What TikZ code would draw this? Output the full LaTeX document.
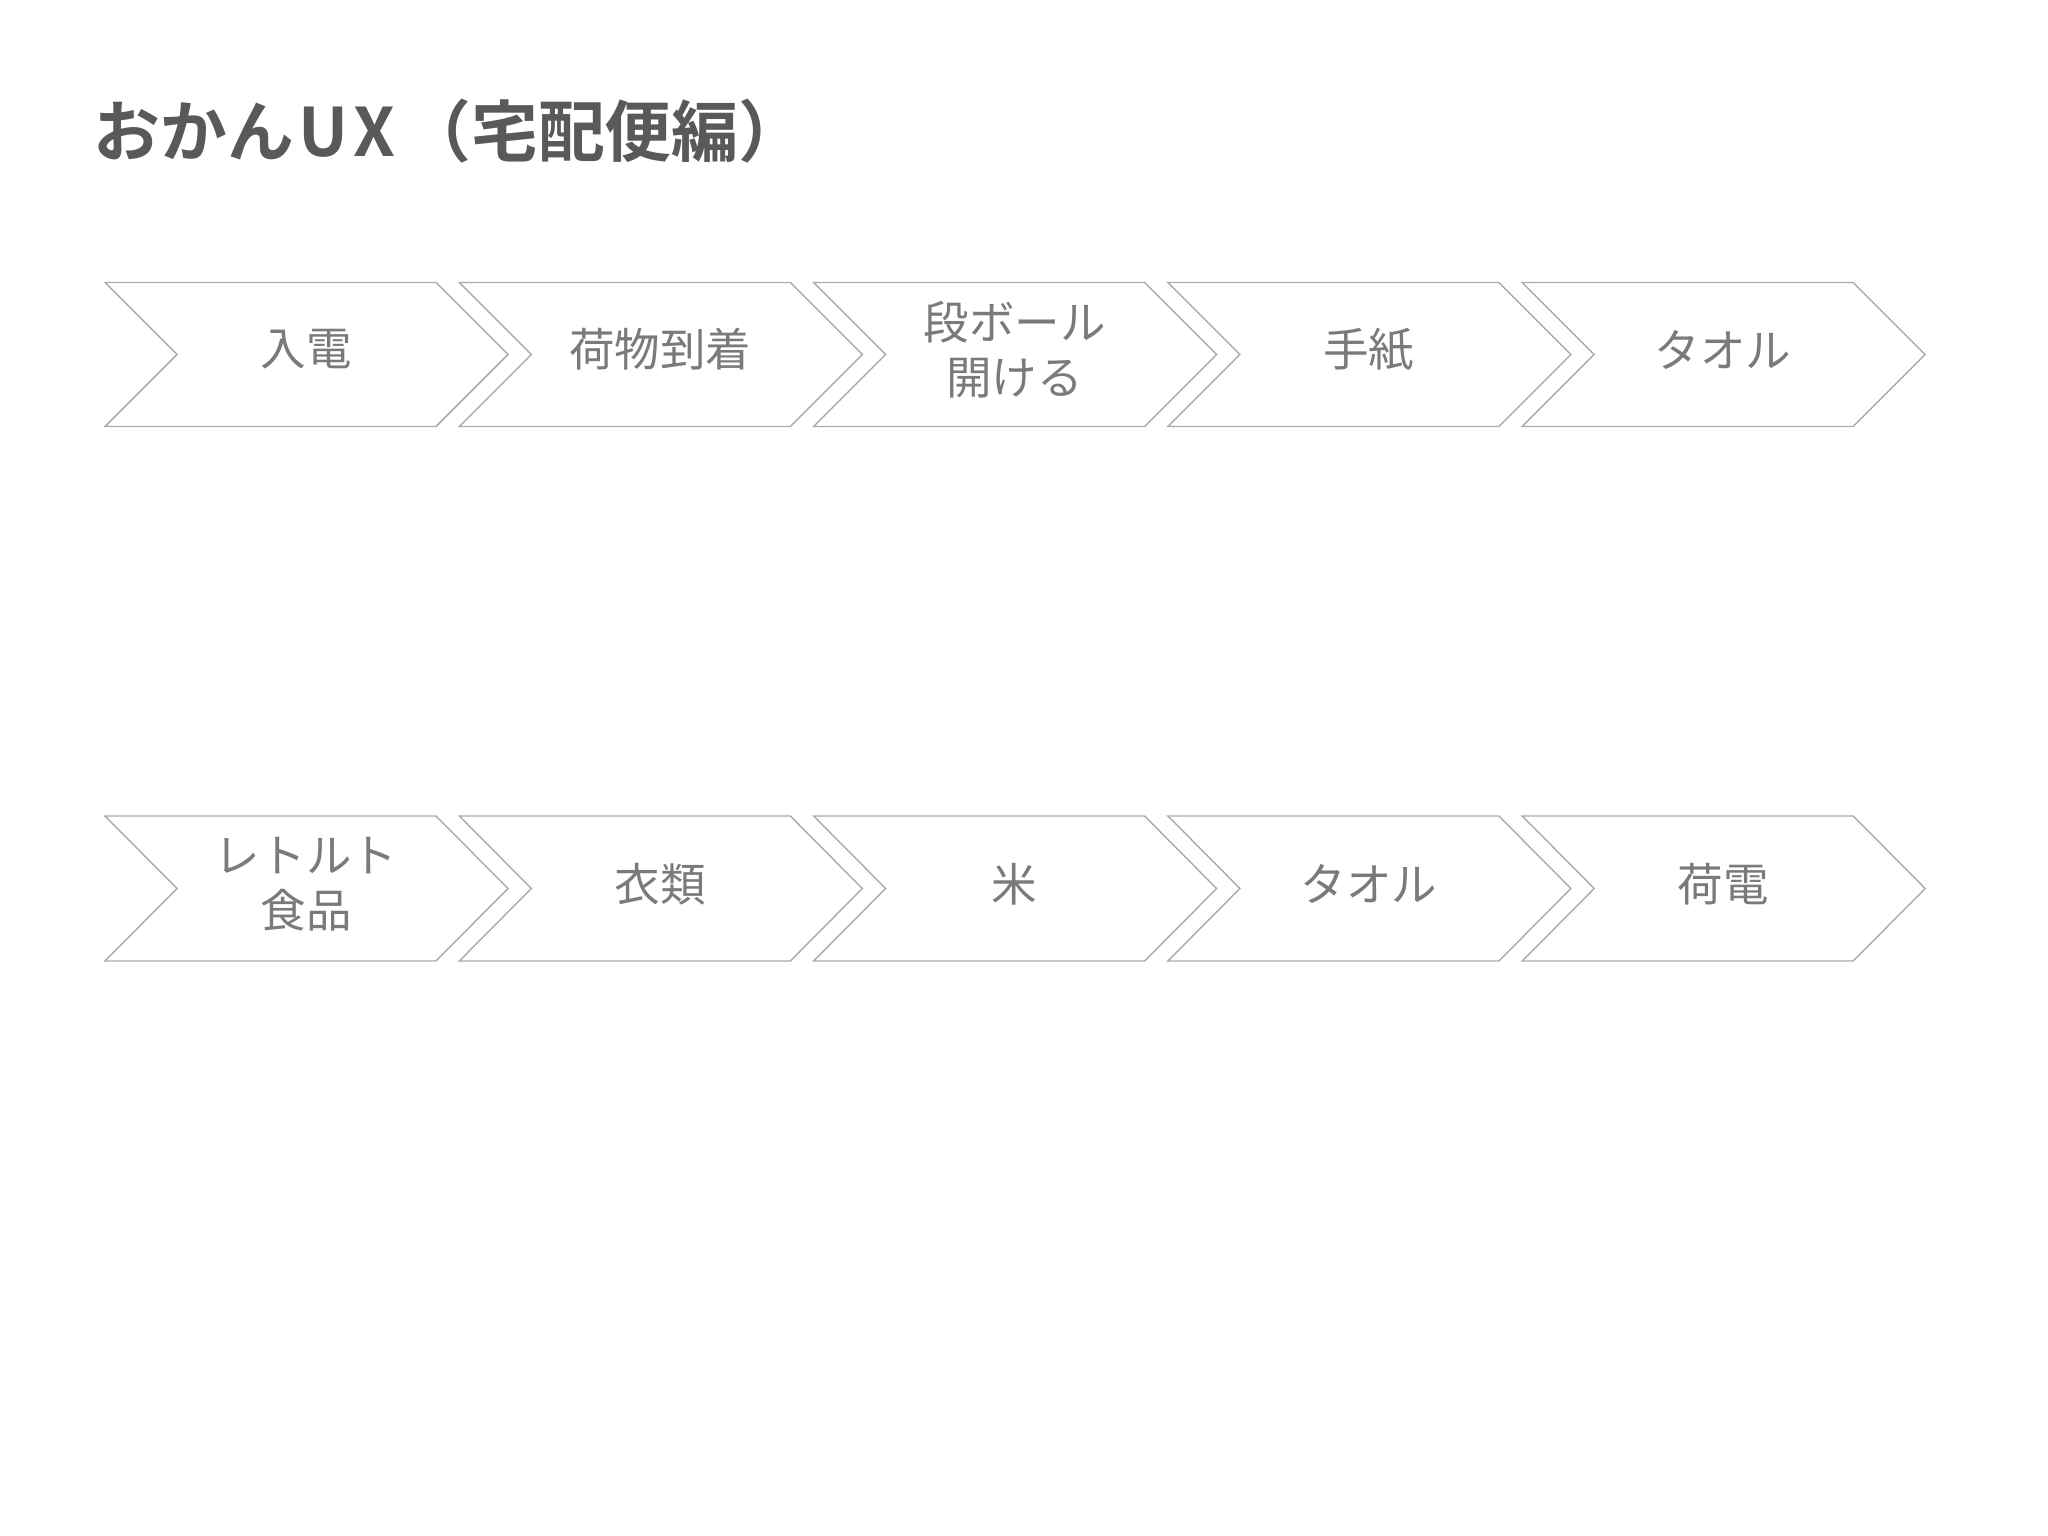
\documentclass[tikz,border=0pt]{standalone}
\usepackage{fontspec}
\setmainfont{Noto Sans CJK JP}[BoldFont={Noto Sans CJK JP Bold}]
\definecolor{chevline}{HTML}{ABABAB}
\definecolor{lbltext}{HTML}{7A7A7A}
\definecolor{titletext}{HTML}{595959}
\tikzset{
  chev/.style={draw=chevline, line width=0.5pt, fill=white, line join=miter},
  lbl/.style={text=lbltext, font=\fontsize{16}{19.5}\selectfont, align=center, inner sep=0pt},
  ttl/.style={text=titletext, font=\fontsize{23.5}{28}\selectfont\bfseries, anchor=west, inner sep=0pt}
}
\begin{document}
\begin{tikzpicture}[x=0.3515625pt, y=-0.3515625pt]
\useasboundingbox (0,0) rectangle (2048,1536);
\node[ttl] (title) at (93,131) {おかん\kern1.5pt U\kern2pt X\kern3pt（宅配便編）};
% row 1
\foreach \i/\t in {0/入電, 1/荷物到着, 2/{段ボール\\開ける}, 3/手紙, 4/タオル} {
  \draw[chev] (105+354.3*\i, 282.5) -- ++(331,0) -- ++(72,72) -- ++(-72,72) -- ++(-331,0) -- ++(72,-72) -- cycle;
  \node[lbl] (a\i) at (306+354.3*\i, 349.5) {\t};
}
% row 2
\foreach \i/\t in {0/{レトルト\\食品}, 1/衣類, 2/米, 3/タオル, 4/荷電} {
  \draw[chev] (105+354.3*\i, 816) -- ++(331,0) -- ++(72,72.5) -- ++(-72,72.5) -- ++(-331,0) -- ++(72,-72.5) -- cycle;
  \node[lbl] (b\i) at (306+354.3*\i, 884) {\t};
}
\end{tikzpicture}
\end{document}
